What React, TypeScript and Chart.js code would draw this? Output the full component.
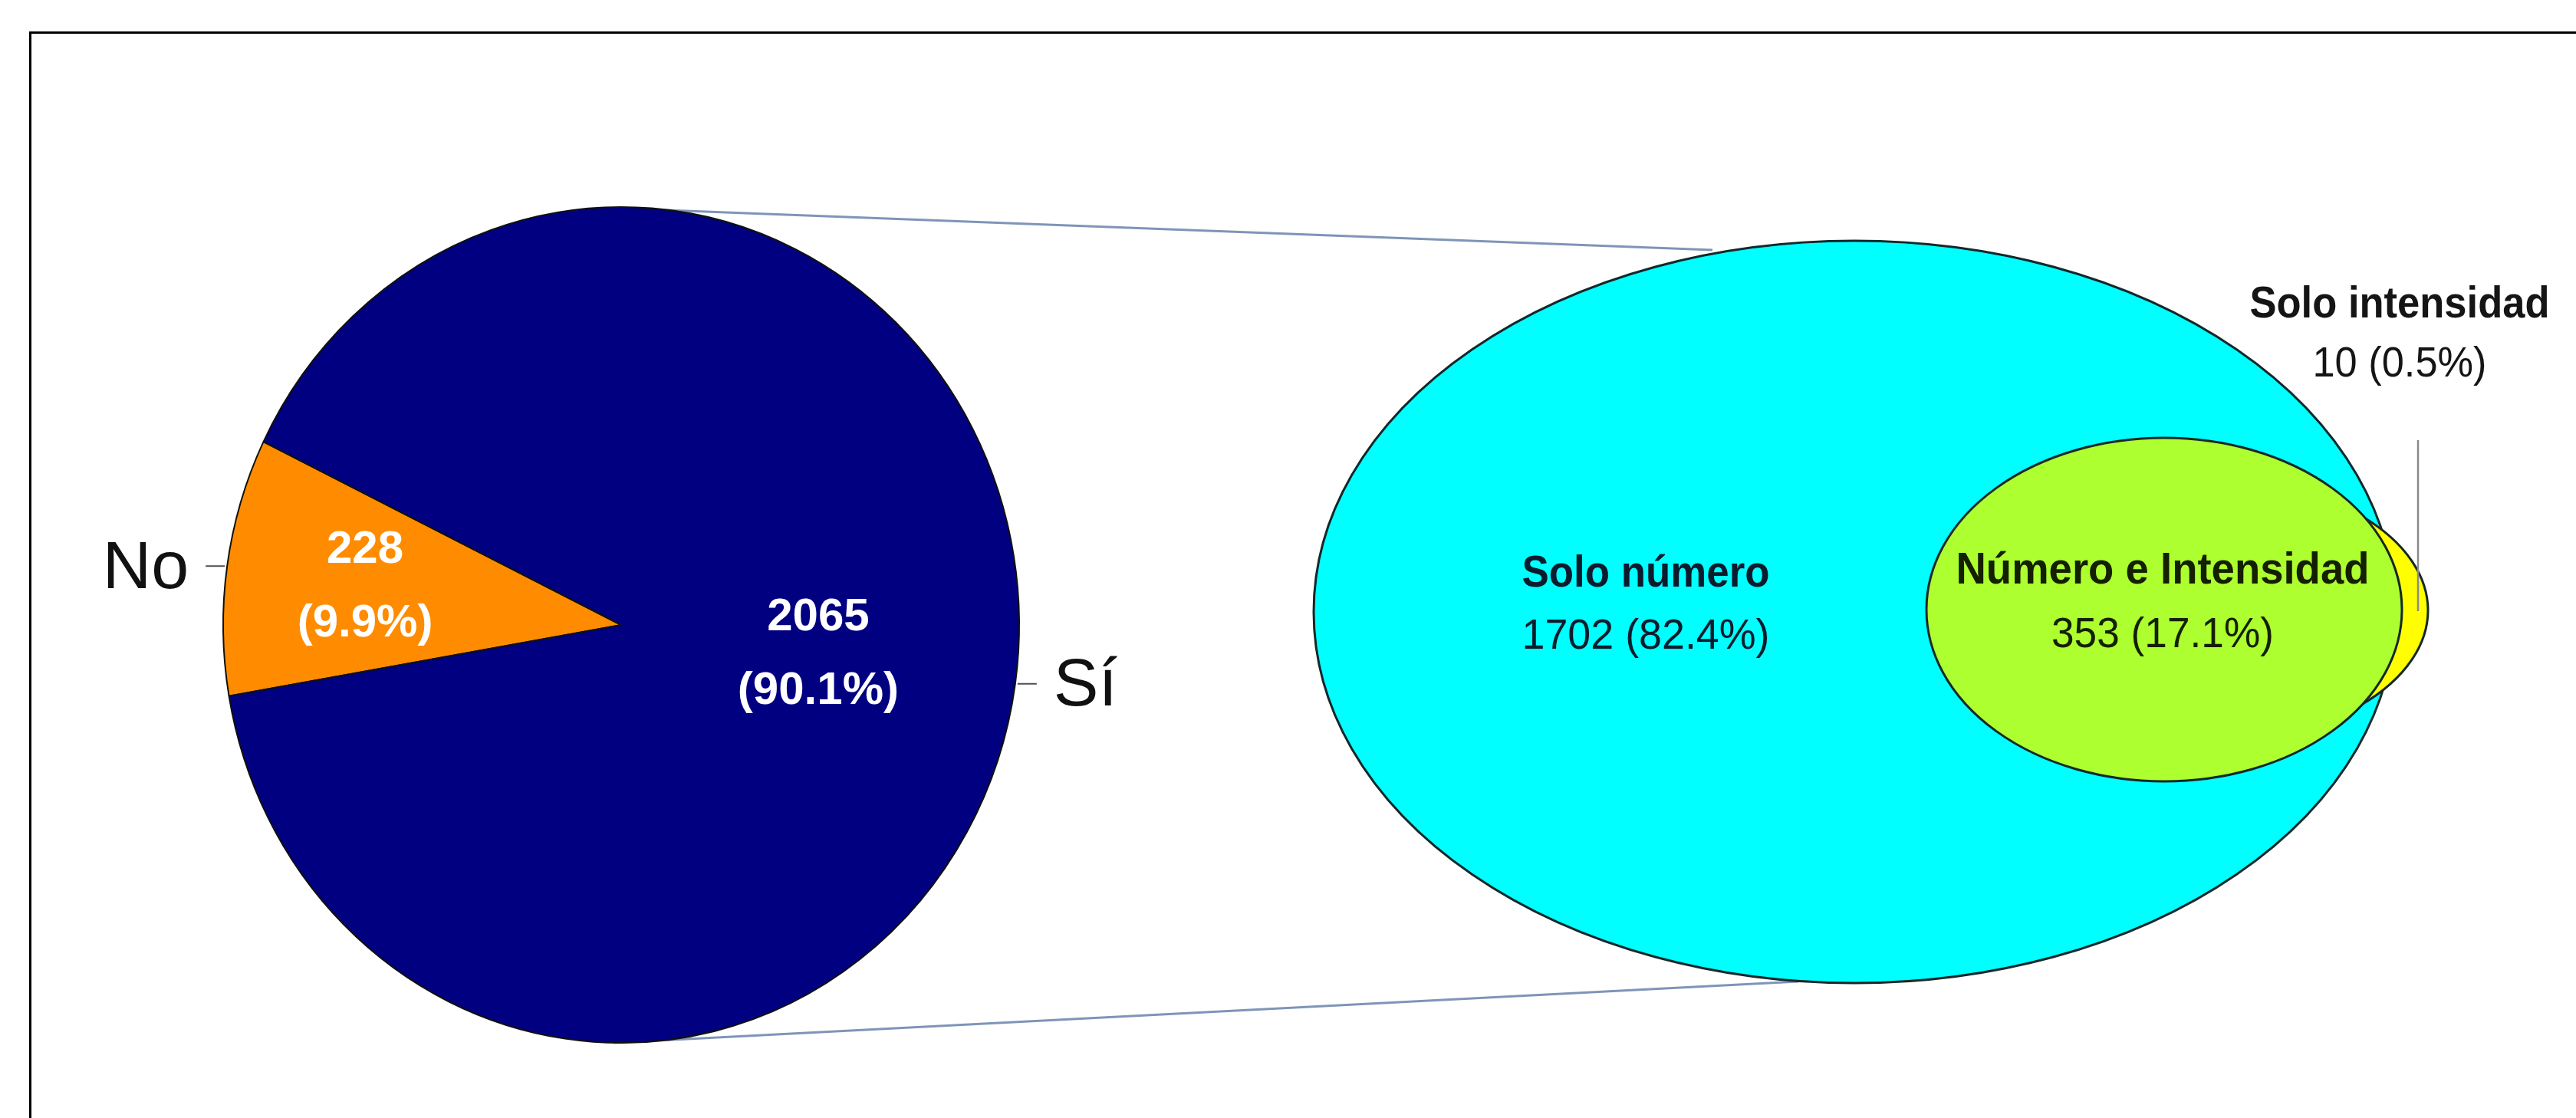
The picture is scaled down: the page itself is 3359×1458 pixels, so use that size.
import React, { useEffect, useRef } from 'react';
import { Chart, registerables } from 'chart.js';

Chart.register(...registerables);

// ---------- data ----------
const PIE_LABELS = ['No', 'Sí'];
const PIE_VALUES = [228, 2065];
const PIE_COLORS = ['#FF8C00', '#000080'];

const VENN_LABELS = ['Solo número', 'Número e Intensidad', 'Solo intensidad'];
const VENN_VALUES = [1702, 353, 10];
const VENN_COLORS = ['#00FFFF', '#ADFF2F', '#FFFF00'];

// ---------- layout (page pixels) ----------
const W = 3359;
const H = 1458;
const FONT = '"Liberation Sans", Arial, sans-serif';

const PIE_CENTER = { x: 810, y: 815 };
const PIE_RADIUS = 520;
const PIE_STRETCH_Y = 1.05;
const PIE_ROTATION = 260.2;
const PIE_LABEL_RADIUS = [0.65, 0.5];
const PIE_LINE_GAP = 96;

// ellipse geometry for each venn region (index matches VENN_LABELS)
const VENN_SHAPES = [
  { cx: 2418, cy: 798, rx: 705, ry: 484 },
  { cx: 2822, cy: 795, rx: 310, ry: 224 },
  { cx: 2866, cy: 796, rx: 300, ry: 175 },
];
const VENN_DRAW_ORDER = [0, 2, 1];
const VENN_TEXT = [
  { x: 2146, y1: 749, y2: 831, w1: 323, w2: 323, color: '#0c1c2c' },
  { x: 2820, y1: 745, y2: 829, w1: 539, w2: 290, color: '#142000' },
  { x: 3129, y1: 398, y2: 476, w1: 391, w2: 227, color: '#151515' },
];
const INTENSITY_LEADER = { x: 3153, y1: 574, y2: 797 };
const CONNECTORS = [
  { x1: 815, y1: 272, x2: 2233, y2: 326 },
  { x1: 800, y1: 1360, x2: 2345, y2: 1280 },
];

const pct = (v: number, total: number) => `${((v / total) * 100).toFixed(1)}%`;

const pieDecor = {
  id: 'pieDecor',
  beforeDatasetsDraw(chart: any) {
    const ctx = chart.ctx;
    ctx.save();
    ctx.translate(PIE_CENTER.x, PIE_CENTER.y);
    ctx.scale(1, PIE_STRETCH_Y);
    ctx.translate(-PIE_CENTER.x, -PIE_CENTER.y);
  },
  afterDatasetsDraw(chart: any) {
    chart.ctx.restore();
  },
  afterDraw(chart: any) {
    const ctx = chart.ctx;
    const meta = chart.getDatasetMeta(0);
    const total = PIE_VALUES.reduce((a, b) => a + b, 0);
    meta.data.forEach((arc: any, i: number) => {
      const { startAngle, endAngle, x, y, outerRadius } = arc.getProps(
        ['startAngle', 'endAngle', 'x', 'y', 'outerRadius'],
        true
      );
      const mid = (startAngle + endAngle) / 2;
      const cos = Math.cos(mid);
      const sin = Math.sin(mid);
      const r = outerRadius * PIE_LABEL_RADIUS[i];
      const lx = x + r * cos;
      const ly = y + r * sin * PIE_STRETCH_Y;
      ctx.save();
      ctx.fillStyle = '#ffffff';
      ctx.font = `bold 60px ${FONT}`;
      ctx.textAlign = 'center';
      ctx.textBaseline = 'middle';
      ctx.fillText(String(PIE_VALUES[i]), lx, ly - PIE_LINE_GAP / 2);
      ctx.fillText(`(${pct(PIE_VALUES[i], total)})`, lx, ly + PIE_LINE_GAP / 2);

      const ex = x + outerRadius * cos;
      const ey = y + outerRadius * sin * PIE_STRETCH_Y;
      const dir = cos < 0 ? -1 : 1;
      ctx.strokeStyle = '#505050';
      ctx.lineWidth = 2;
      ctx.beginPath();
      ctx.moveTo(ex + dir * 3, ey);
      ctx.lineTo(ex + dir * 28, ey);
      ctx.stroke();
      ctx.fillStyle = '#111111';
      ctx.font = `88px ${FONT}`;
      ctx.textAlign = dir < 0 ? 'right' : 'left';
      ctx.fillText(PIE_LABELS[i], ex + dir * 50, ey + 4);
      ctx.restore();
    });
  },
};

const vennDecor = {
  id: 'vennDecor',
  afterDraw(chart: any) {
    const ctx = chart.ctx;
    const xs = chart.scales.x;
    const ys = chart.scales.y;
    const px = (v: number) => xs.getPixelForValue(v);
    const py = (v: number) => ys.getPixelForValue(v);
    ctx.save();
    // connectors
    ctx.strokeStyle = '#7f95b8';
    ctx.lineWidth = 3;
    CONNECTORS.forEach((c) => {
      ctx.beginPath();
      ctx.moveTo(px(c.x1), py(c.y1));
      ctx.lineTo(px(c.x2), py(c.y2));
      ctx.stroke();
    });
    // ellipses
    VENN_DRAW_ORDER.forEach((i) => {
      const s = VENN_SHAPES[i];
      const cx = px(s.cx);
      const cy = py(s.cy);
      const rx = Math.abs(px(s.cx + s.rx) - cx);
      const ry = Math.abs(py(s.cy + s.ry) - cy);
      ctx.beginPath();
      ctx.ellipse(cx, cy, rx, ry, 0, 0, Math.PI * 2);
      ctx.fillStyle = VENN_COLORS[i];
      ctx.fill();
      ctx.strokeStyle = '#14282a';
      ctx.lineWidth = 3;
      ctx.stroke();
    });
    // leader for the small region
    ctx.strokeStyle = '#8a8a8a';
    ctx.lineWidth = 2.5;
    ctx.beginPath();
    ctx.moveTo(px(INTENSITY_LEADER.x), py(INTENSITY_LEADER.y1));
    ctx.lineTo(px(INTENSITY_LEADER.x), py(INTENSITY_LEADER.y2));
    ctx.stroke();
    // texts
    const total = VENN_VALUES.reduce((a, b) => a + b, 0);
    ctx.textAlign = 'center';
    ctx.textBaseline = 'middle';
    VENN_LABELS.forEach((label, i) => {
      const t = VENN_TEXT[i];
      ctx.fillStyle = t.color;
      ctx.font = `bold 58px ${FONT}`;
      ctx.fillText(label, px(t.x), py(t.y1), t.w1);
      ctx.font = `56px ${FONT}`;
      ctx.fillText(`${VENN_VALUES[i]} (${pct(VENN_VALUES[i], total)})`, px(t.x), py(t.y2), t.w2);
    });
    ctx.restore();
  },
};

export default function App() {
  const vennRef = useRef<HTMLCanvasElement>(null);
  const pieRef = useRef<HTMLCanvasElement>(null);

  useEffect(() => {
    const venn = new Chart(vennRef.current as HTMLCanvasElement, {
      type: 'scatter',
      data: { datasets: [{ data: [] }] },
      options: {
        responsive: false,
        animation: false,
        events: [],
        layout: { padding: 0 },
        scales: {
          x: { type: 'linear', min: 0, max: W, display: false },
          y: { type: 'linear', min: 0, max: H, reverse: true, display: false },
        },
        plugins: { legend: { display: false }, tooltip: { enabled: false } },
      },
      plugins: [vennDecor],
    } as any);

    const pie = new Chart(pieRef.current as HTMLCanvasElement, {
      type: 'pie',
      data: {
        labels: PIE_LABELS,
        datasets: [
          {
            data: PIE_VALUES,
            backgroundColor: PIE_COLORS,
            borderColor: '#101010',
            borderWidth: 2,
            clip: false,
          },
        ],
      },
      options: {
        responsive: false,
        animation: false,
        events: [],
        rotation: PIE_ROTATION,
        layout: {
          padding: {
            left: PIE_CENTER.x - PIE_RADIUS,
            top: PIE_CENTER.y - PIE_RADIUS,
            right: W - (PIE_CENTER.x + PIE_RADIUS),
            bottom: H - (PIE_CENTER.y + PIE_RADIUS),
          },
        },
        plugins: { legend: { display: false }, tooltip: { enabled: false } },
      },
      plugins: [pieDecor],
    } as any);

    return () => {
      venn.destroy();
      pie.destroy();
    };
  }, []);

  return (
    <div
      style={{
        position: 'fixed',
        left: 0,
        top: 0,
        width: W,
        height: H,
        background: '#ffffff',
        overflow: 'hidden',
      }}
    >
      <div style={{ position: 'absolute', left: 38, top: 41, width: W - 38, height: 3, background: '#000' }} />
      <div style={{ position: 'absolute', left: 38, top: 41, width: 3, height: H - 41, background: '#000' }} />
      <canvas
        ref={vennRef}
        width={W}
        height={H}
        style={{ position: 'absolute', left: 0, top: 0, width: W, height: H }}
      />
      <canvas
        ref={pieRef}
        width={W}
        height={H}
        style={{ position: 'absolute', left: 0, top: 0, width: W, height: H }}
      />
    </div>
  );
}
